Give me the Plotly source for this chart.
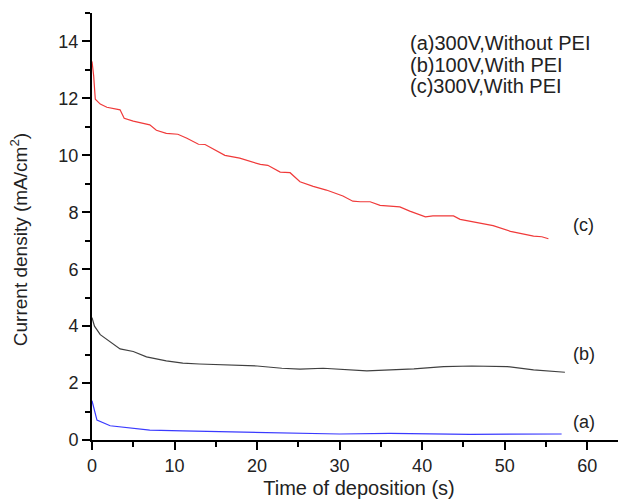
import plotly.graph_objects as go

# Series (c) 300V, With PEI
c_x = [0, 0.2, 0.4, 1.0, 1.8, 3.4, 3.9, 5.0, 7.0, 7.8, 9.0, 10.4, 11.5, 12.9, 13.7, 14.5, 16.1, 17.9,
       20.4, 21.3, 22.8, 24.0, 25.2, 26.8, 28.4, 30.4, 31.6, 32.5, 33.7, 34.9, 37.3, 38.5, 40.4, 41.3,
       43.8, 44.6, 47.0, 48.6, 50.7, 51.9, 53.5, 54.5, 55.3]
c_y = [13.3, 12.8, 11.97, 11.8, 11.69, 11.6, 11.3, 11.2, 11.07, 10.88, 10.77, 10.74, 10.6, 10.39, 10.38,
       10.25, 10.0, 9.9, 9.68, 9.65, 9.41, 9.39, 9.07, 8.91, 8.78, 8.57, 8.39, 8.37, 8.37, 8.24, 8.19,
       8.04, 7.84, 7.87, 7.87, 7.75, 7.63, 7.53, 7.33, 7.25, 7.16, 7.14, 7.07]

# Series (b) 100V, With PEI
b_x = [0, 0.3, 1.0, 2.2, 3.4, 5.0, 6.6, 9.0, 11.0, 13.0, 16, 20, 23, 25.2, 28, 33.3, 39, 42.6, 46,
       50.3, 53.5, 57.3]
b_y = [4.3, 4.0, 3.7, 3.46, 3.2, 3.11, 2.92, 2.78, 2.7, 2.67, 2.65, 2.6, 2.52, 2.49, 2.52, 2.43, 2.5,
       2.58, 2.6, 2.58, 2.46, 2.38]

# Series (a) 300V, Without PEI
a_x = [0, 0.3, 0.6, 2.2, 5.0, 7.0, 11.0, 13.1, 15.3, 23.0, 30.0, 36.1, 45.8, 56.9]
a_y = [1.38, 1.0, 0.7, 0.5, 0.41, 0.35, 0.32, 0.31, 0.28, 0.25, 0.21, 0.23, 0.2, 0.21]

legend_lines = ["(a)300V,Without PEI", "(b)100V,With PEI", "(c)300V,With PEI"]
curve_labels = ["(a)", "(b)", "(c)"]

x_title = "Time of deposition (s)"
y_title = "Current density (mA/cm<sup>2</sup>)"

FONT = "Liberation Sans, Arial, sans-serif"
TXT = "#222222"

fig = go.Figure()
fig.add_trace(go.Scatter(x=a_x, y=a_y, mode="lines", line=dict(color="#3a3aff", width=1.2), showlegend=False))
fig.add_trace(go.Scatter(x=b_x, y=b_y, mode="lines", line=dict(color="#404040", width=1.2), showlegend=False))
fig.add_trace(go.Scatter(x=c_x, y=c_y, mode="lines", line=dict(color="#f03a3a", width=1.2), showlegend=False))

# legend-like text block
for t, yy in zip(legend_lines, [13.96, 13.19, 12.42]):
    fig.add_annotation(x=38.3, y=yy, text=t, showarrow=False, xanchor="left", yanchor="middle",
                       font=dict(family=FONT, size=20, color=TXT))

# curve labels
for t, yy in zip(curve_labels, [0.63, 3.03, 7.54]):
    fig.add_annotation(x=59.6, y=yy, text=t, showarrow=False, xanchor="center", yanchor="middle",
                       font=dict(family=FONT, size=18, color=TXT))

# y-axis title (placed as rotated annotation)
fig.add_annotation(xref="paper", yref="paper", x=0, y=0.468, xshift=-73, text=y_title,
                   textangle=-90, showarrow=False, xanchor="center", yanchor="middle",
                   font=dict(family=FONT, size=19, color=TXT))

axis_common = dict(
    showline=True, linecolor="black", linewidth=2, showgrid=False, zeroline=False,
    ticks="outside", ticklen=8, tickwidth=2, tickcolor="black",
    tickfont=dict(family=FONT, size=18, color=TXT),
    mirror=False,
)

fig.update_xaxes(range=[0, 64.7], dtick=10, tick0=0,
                 minor=dict(ticks="outside", ticklen=5, tickwidth=2, tickcolor="black", dtick=5),
                 title=dict(text=x_title, font=dict(family=FONT, size=20, color=TXT), standoff=6),
                 **axis_common)
fig.update_yaxes(range=[0, 15], dtick=2, tick0=0,
                 minor=dict(ticks="outside", ticklen=5, tickwidth=2, tickcolor="black", dtick=1),
                 **axis_common)

# page body has an 8px margin, so the figure is sized to fit the 626x500 window
fig.update_layout(
    width=618, height=492,
    margin=dict(l=84, r=0, t=5, b=60),
    plot_bgcolor="white", paper_bgcolor="white",
    font=dict(family=FONT, color=TXT),
)

fig.write_html("out.html")
